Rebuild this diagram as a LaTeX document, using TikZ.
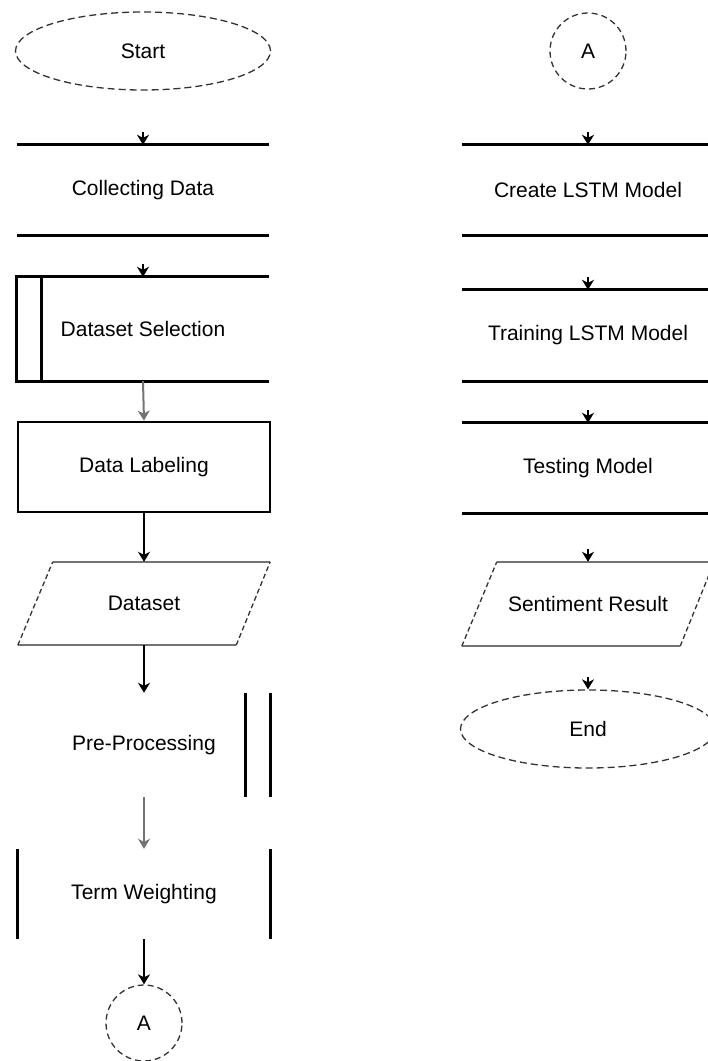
\documentclass[tikz,border=0pt]{standalone}
\usepackage{fontspec}
\setmainfont{Liberation Sans}
\usetikzlibrary{shapes.geometric,arrows.meta}
\tikzset{
  txt/.style={font=\fontsize{21}{24}\selectfont},
  box/.style={txt,rectangle,inner sep=0pt,minimum width=252pt,minimum height=90pt},
  oval/.style={txt,ellipse,draw=black!80,line width=1.3pt,dash pattern=on 7pt off 4pt,
    minimum width=255pt,minimum height=78pt,inner sep=0pt},
  conn/.style={txt,circle,draw=black!80,line width=1.3pt,dash pattern=on 6pt off 4pt,
    minimum size=76pt,inner sep=0pt},
  edge2/.style={line width=2.8pt},
  arr/.style={-{Stealth[length=10pt,width=12pt,inset=3pt]},line width=2pt},
}
\begin{document}
\begin{tikzpicture}[x=1pt,y=-1pt]
\useasboundingbox (0,0) rectangle (708,1061);
% left column
\node[oval] (start) at (143,51) {Start};
\node[box] (collect) at (143,190) {Collecting Data};
\node[box,minimum height=104pt] (dsel) at (143,329) {Dataset Selection};
\node[box,draw,line width=2.8pt] (label) at (144,467) {Data Labeling};
\node[box,minimum height=83pt] (data) at (144,603.5) {Dataset};
\node[box,minimum height=104pt] (prep) at (144,745) {Pre-Processing};
\node[box] (term) at (144,894) {Term Weighting};
\node[conn] (conA) at (144,1023) {A};
% right column
\node[conn] (conB) at (588,51) {A};
\node[box] (create) at (588,190) {Create LSTM Model};
\node[box,minimum height=91pt] (train) at (588,335.5) {Training LSTM Model};
\node[box] (test) at (588,468) {Testing Model};
\node[box,minimum height=84pt] (result) at (588,604) {Sentiment Result};
\node[oval] (stop) at (588,729) {End};

% box outlines
\draw[edge2] (collect.north west) -- (collect.north east)
  (collect.south west) -- (collect.south east);
\draw[edge2] (dsel.north east) -- (dsel.north west) -- (dsel.south west) -- (dsel.south east)
  ([xshift=25pt]dsel.north west) -- ([xshift=25pt]dsel.south west);
\draw[edge2] (prep.north east) -- (prep.south east)
  ([xshift=-25pt]prep.north east) -- ([xshift=-25pt]prep.south east);
\draw[edge2] (term.north west) -- (term.south west)
  (term.north east) -- (term.south east);
\foreach \b in {create,train,test}
  \draw[edge2] (\b.north west) -- (\b.north east)
    (\b.south west) -- (\b.south east);
\foreach \b in {data,result} {
  \draw[black!55,line width=2.2pt] ([xshift=35pt]\b.north west) -- (\b.north east)
    (\b.south west) -- ([xshift=-34pt]\b.south east);
  \draw[black!80,line width=1.3pt,dash pattern=on 5pt off 3pt]
    (\b.south west) -- ([xshift=35pt]\b.north west)
    ([xshift=-34pt]\b.south east) -- (\b.north east);
}

% connectors
\coordinate (t1) at (143,132);
\coordinate (t2) at (143,264);
\coordinate (t3) at (588,132);
\coordinate (t4) at (588,277);
\coordinate (t5) at (588,410);
\coordinate (t6) at (588,549);
\coordinate (t7) at (588,677);
\draw[arr] (t1) -- (collect.north);
\draw[arr] (t2) -- (dsel.north);
\draw[arr,black!55] (dsel.south) -- (label.north);
\draw[arr] (label.south) -- (data.north);
\draw[arr] (data.south) -- (prep.north);
\draw[arr,black!55] (prep.south) -- (term.north);
\draw[arr] (term.south) -- (conA.north);
\draw[arr] (t3) -- (create.north);
\draw[arr] (t4) -- (train.north);
\draw[arr] (t5) -- (test.north);
\draw[arr] (t6) -- (result.north);
\draw[arr] (t7) -- (stop.north);
\end{tikzpicture}
\end{document}
